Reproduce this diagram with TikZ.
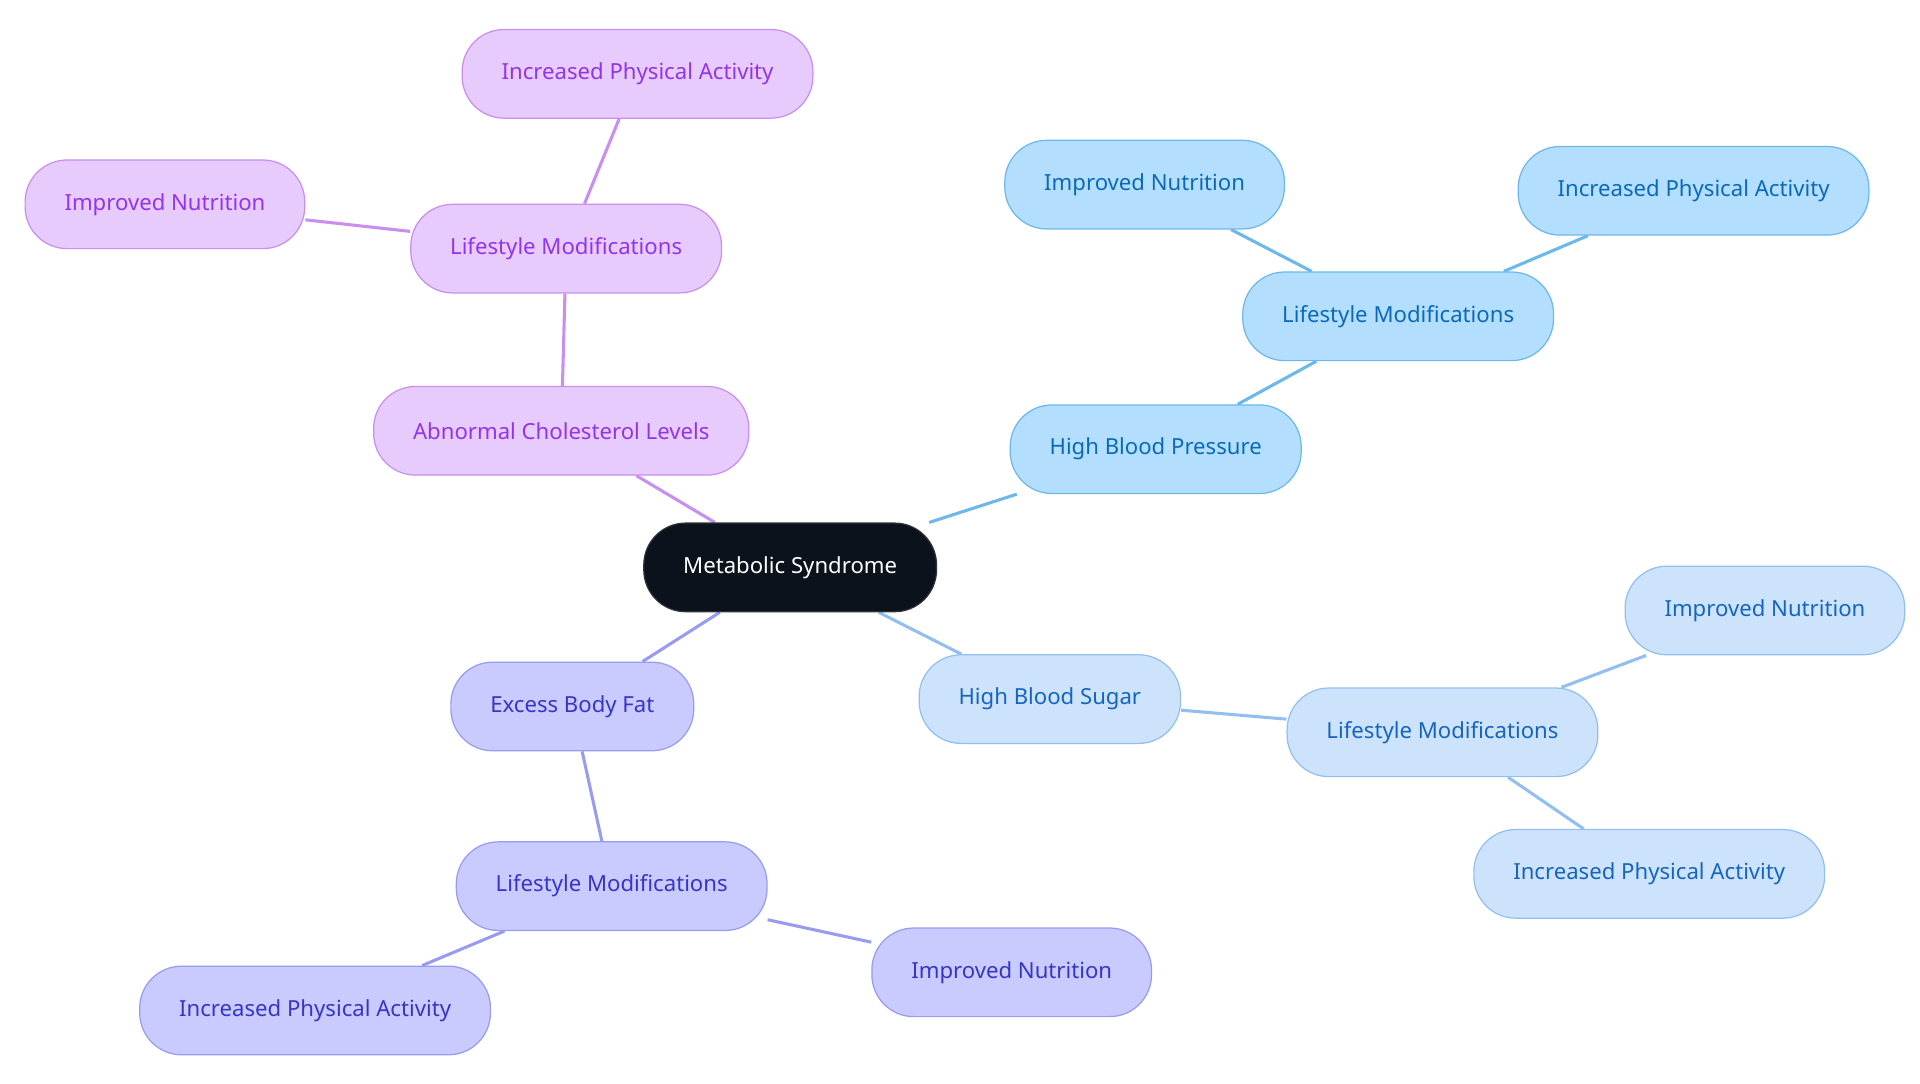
\documentclass[tikz,border=0pt]{standalone}
\usepackage{fontspec}
\setmainfont{Noto Sans}
\usetikzlibrary{backgrounds}
\definecolor{rootfill}{HTML}{0B121C}
\definecolor{purfill}{HTML}{E8CBFD}
\definecolor{purline}{HTML}{C98EEF}
\definecolor{purtext}{HTML}{9333EA}
\definecolor{indfill}{HTML}{C9CBFE}
\definecolor{indline}{HTML}{989CF0}
\definecolor{indtext}{HTML}{3535C8}
\definecolor{ltfill}{HTML}{CDE3FB}
\definecolor{ltline}{HTML}{93BFF0}
\definecolor{lttext}{HTML}{1565C0}
\definecolor{skyfill}{HTML}{B3DEFE}
\definecolor{skyline}{HTML}{6CB8EC}
\definecolor{skytext}{HTML}{0B6AB8}
\tikzset{
  box/.style={rectangle, rounded corners=34pt, minimum height=72pt, inner xsep=32pt,
    line width=1pt, font=\fontsize{18}{22}\selectfont},
  root/.style={box, fill=rootfill, draw=rootfill!70!gray, text=white},
  pur/.style={box, fill=purfill, draw=purline, text=purtext},
  ind/.style={box, fill=indfill, draw=indline, text=indtext},
  lt/.style={box, fill=ltfill, draw=ltline, text=lttext},
  sky/.style={box, fill=skyfill, draw=skyline, text=skytext},
  link/.style={line width=2.5pt}
}
\begin{document}
\begin{tikzpicture}[x=1pt,y=-1pt]
  \useasboundingbox (0,0) rectangle (1560,880);

  \node[root] (root) at (642,461) {Metabolic Syndrome};

  \node[sky] (hbp) at (939,365) {High Blood Pressure};
  \node[sky] (hbp_lm) at (1136,257) {Lifestyle Modifications};
  \node[sky] (hbp_in) at (930,150) {Improved Nutrition};
  \node[sky] (hbp_pa) at (1376,155) {Increased Physical Activity};

  \node[lt] (hbs) at (853,568) {High Blood Sugar};
  \node[lt] (hbs_lm) at (1172,595) {Lifestyle Modifications};
  \node[lt] (hbs_in) at (1434,496) {Improved Nutrition};
  \node[lt] (hbs_pa) at (1340,710) {Increased Physical Activity};

  \node[ind] (ebf) at (465,574) {Excess Body Fat};
  \node[ind] (ebf_lm) at (497,720) {Lifestyle Modifications};
  \node[ind] (ebf_in) at (822,790) {Improved Nutrition};
  \node[ind] (ebf_pa) at (256,821) {Increased Physical Activity};

  \node[pur] (acl) at (456,350) {Abnormal Cholesterol Levels};
  \node[pur] (acl_lm) at (460,202) {Lifestyle Modifications};
  \node[pur] (acl_in) at (134,166) {Improved Nutrition};
  \node[pur] (acl_pa) at (518,60) {Increased Physical Activity};

  \begin{scope}[on background layer]
    \draw[link, skyline] (root) -- (hbp);
    \draw[link, skyline] (hbp) -- (hbp_lm);
    \draw[link, skyline] (hbp_lm) -- (hbp_in);
    \draw[link, skyline] (hbp_lm) -- (hbp_pa);

    \draw[link, ltline] (root) -- (hbs);
    \draw[link, ltline] (hbs) -- (hbs_lm);
    \draw[link, ltline] (hbs_lm) -- (hbs_in);
    \draw[link, ltline] (hbs_lm) -- (hbs_pa);

    \draw[link, indline] (root) -- (ebf);
    \draw[link, indline] (ebf) -- (ebf_lm);
    \draw[link, indline] (ebf_lm) -- (ebf_in);
    \draw[link, indline] (ebf_lm) -- (ebf_pa);

    \draw[link, purline] (root) -- (acl);
    \draw[link, purline] (acl) -- (acl_lm);
    \draw[link, purline] (acl_lm) -- (acl_in);
    \draw[link, purline] (acl_lm) -- (acl_pa);
  \end{scope}
\end{tikzpicture}
\end{document}
